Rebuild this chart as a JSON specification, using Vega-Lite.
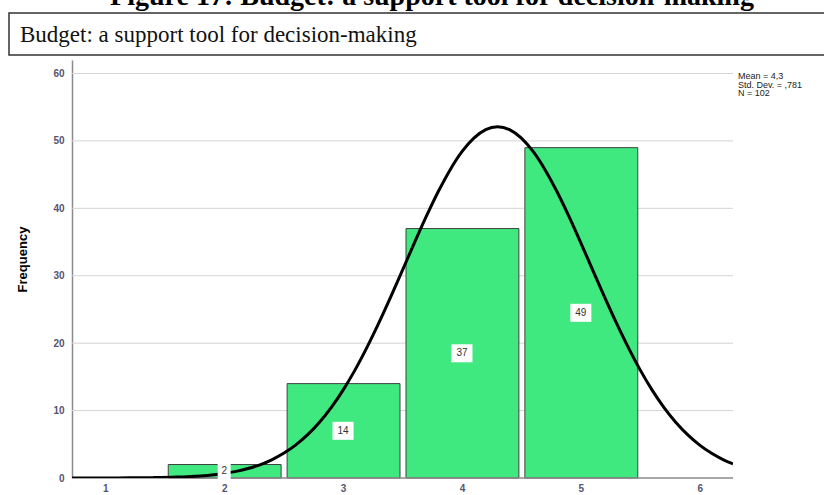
{
  "$schema": "https://vega.github.io/schema/vega-lite/v6.json",
  "background": "white",
  "padding": {"left": 8, "top": -17, "right": 0, "bottom": 0},
  "title": {"text": "Figure 17: Budget: a support tool for decision-making", "font": "Liberation Serif", "fontSize": 28, "fontWeight": "bold", "color": "black", "anchor": "middle", "offset": 1, "dx": 15},
  "spacing": 4,
  "config": {"font": "Liberation Sans"},
  "datasets": {
    "bars": [
      {"value": 2, "lo": 1.5, "hi": 2.5, "count": 2},
      {"value": 3, "lo": 2.5, "hi": 3.5, "count": 14},
      {"value": 4, "lo": 3.5, "hi": 4.5, "count": 37},
      {"value": 5, "lo": 4.5, "hi": 5.5, "count": 49}
    ],
    "grid": [{"tick": 10}, {"tick": 20}, {"tick": 30}, {"tick": 40}, {"tick": 50}, {"tick": 60}],
    "curve": [
      {"x": 0.72, "y": 0.0015}, {"x": 1.0, "y": 0.007}, {"x": 1.2, "y": 0.02}, {"x": 1.4, "y": 0.053}, {"x": 1.6, "y": 0.132}, {"x": 1.8, "y": 0.311}, {"x": 2.0, "y": 0.682}, {"x": 2.1, "y": 0.986}, {"x": 2.2, "y": 1.403}, {"x": 2.3, "y": 1.96}, {"x": 2.4, "y": 2.703}, {"x": 2.5, "y": 3.66}, {"x": 2.6, "y": 4.875}, {"x": 2.7, "y": 6.39}, {"x": 2.8, "y": 8.24}, {"x": 2.9, "y": 10.45}, {"x": 3.0, "y": 13.04}, {"x": 3.1, "y": 16.0}, {"x": 3.2, "y": 19.33}, {"x": 3.3, "y": 22.96}, {"x": 3.4, "y": 26.82}, {"x": 3.5, "y": 30.83}, {"x": 3.6, "y": 34.87}, {"x": 3.7, "y": 38.79}, {"x": 3.8, "y": 42.45}, {"x": 3.9, "y": 45.7}, {"x": 4.0, "y": 48.4}, {"x": 4.1, "y": 50.42}, {"x": 4.2, "y": 51.68}, {"x": 4.3, "y": 52.1}, {"x": 4.4, "y": 51.68}, {"x": 4.5, "y": 50.42}, {"x": 4.6, "y": 48.4}, {"x": 4.7, "y": 45.7}, {"x": 4.8, "y": 42.45}, {"x": 4.9, "y": 38.79}, {"x": 5.0, "y": 34.87}, {"x": 5.1, "y": 30.83}, {"x": 5.2, "y": 26.82}, {"x": 5.3, "y": 22.96}, {"x": 5.4, "y": 19.33}, {"x": 5.5, "y": 16.0}, {"x": 5.6, "y": 13.04}, {"x": 5.7, "y": 10.45}, {"x": 5.8, "y": 8.24}, {"x": 5.9, "y": 6.39}, {"x": 6.0, "y": 4.875}, {"x": 6.1, "y": 3.66}, {"x": 6.2, "y": 2.703}, {"x": 6.28, "y": 2.1}
    ]
  },
  "vconcat": [
    {
      "width": 816,
      "height": 42,
      "view": {"stroke": "#333333", "strokeWidth": 1.5, "fill": "white"},
      "title": {"text": "Budget: a support tool for decision-making", "font": "Liberation Serif", "fontSize": 23, "fontWeight": "normal", "color": "#111111", "anchor": "start", "frame": "group", "orient": "top", "offset": -34, "dx": 11},
      "data": {"values": [{"t": ""}]},
      "mark": {"type": "text"},
      "encoding": {"text": {"field": "t", "type": "nominal"}}
    },
    {
      "width": 724,
      "height": 418,
      "view": {"stroke": null},
      "title": {"text": ["Mean = 4,3", "Std. Dev. = ,781", "N = 102"], "orient": "top", "anchor": "end", "align": "left", "frame": "group", "dx": 5, "offset": -38, "fontSize": 9, "fontWeight": "normal", "font": "Liberation Sans", "color": "#222222", "lineHeight": 8.5},
      "resolve": {"scale": {"y": "independent"}},
      "layer": [
        {
          "data": {"name": "grid"},
          "mark": {"type": "rule", "color": "#d4d4d4", "strokeWidth": 1},
          "encoding": {
            "x": {"datum": 0.72, "type": "quantitative", "scale": {"domain": [0.19, 6.28], "nice": false, "zero": false}},
            "x2": {"datum": 6.28},
            "y": {"field": "tick", "type": "quantitative", "scale": {"domain": [0, 62], "nice": false}, "axis": null}
          }
        },
        {
          "data": {"name": "bars"},
          "mark": {"type": "bar", "fill": "#40E880", "stroke": "#404040", "strokeWidth": 1, "binSpacing": 6},
          "encoding": {
            "x": {"field": "lo", "type": "quantitative", "bin": "binned",
              "scale": {"domain": [0.19, 6.28], "nice": false, "zero": false},
              "axis": {"values": [1, 2, 3, 4, 5, 6], "format": "d", "title": null, "grid": false, "ticks": false, "domain": false, "labelColor": "#555570", "labelFontSize": 10, "labelFontWeight": "bold", "labelPadding": 5, "labelFont": "Liberation Sans"}},
            "x2": {"field": "hi"},
            "y": {"field": "count", "type": "quantitative",
              "scale": {"domain": [0, 62], "nice": false},
              "axis": {"values": [0, 10, 20, 30, 40, 50, 60], "offset": -63, "title": "Frequency", "titleFontSize": 13, "titleFontWeight": "bold", "titleColor": "black", "titleFont": "Liberation Sans", "titlePadding": 23, "titleY": 199, "grid": false, "ticks": false, "domainColor": "#8a8a8a", "domainWidth": 1.5, "labelColor": "#555570", "labelFontSize": 10, "labelFontWeight": "bold", "labelPadding": 8, "labelFont": "Liberation Sans"}}
          }
        },
        {
          "data": {"values": [{"axis": "x"}]},
          "mark": {"type": "rule", "color": "#8a8a8a", "strokeWidth": 1.5},
          "encoding": {
            "x": {"datum": 0.72, "type": "quantitative", "scale": {"domain": [0.19, 6.28], "nice": false, "zero": false}},
            "x2": {"datum": 6.28},
            "y": {"datum": 0, "type": "quantitative", "scale": {"domain": [0, 62], "nice": false}, "axis": null}
          }
        },
        {
          "data": {"name": "curve"},
          "mark": {"type": "line", "color": "black", "strokeWidth": 3, "interpolate": "monotone", "clip": true},
          "encoding": {
            "x": {"field": "x", "type": "quantitative", "scale": {"domain": [0.19, 6.28], "nice": false, "zero": false}},
            "y": {"field": "y", "type": "quantitative", "scale": {"domain": [0, 62], "nice": false}, "axis": null}
          }
        },
        {
          "data": {"name": "bars"},
          "mark": {"type": "point", "filled": true, "fill": "white", "opacity": 1, "strokeWidth": 0, "size": 324},
          "encoding": {
            "x": {"field": "value", "type": "quantitative", "scale": {"domain": [0.19, 6.28], "nice": false, "zero": false}},
            "y": {"field": "count", "type": "quantitative", "scale": {"domain": [0, 124], "nice": false}, "axis": null},
            "shape": {"condition": {"test": "datum.count < 10", "value": "M-0.72,-1L0.72,-1L0.72,1L-0.72,1Z"}, "value": "M-1.17,-1L1.17,-1L1.17,1L-1.17,1Z"}
          }
        },
        {
          "data": {"name": "bars"},
          "mark": {"type": "text", "fontSize": 10, "font": "Liberation Sans", "color": "#333333", "baseline": "middle", "align": "center"},
          "encoding": {
            "x": {"field": "value", "type": "quantitative", "scale": {"domain": [0.19, 6.28], "nice": false, "zero": false}},
            "y": {"field": "count", "type": "quantitative", "scale": {"domain": [0, 124], "nice": false}, "axis": null},
            "text": {"field": "count", "type": "quantitative"}
          }
        }
      ]
    }
  ]
}
